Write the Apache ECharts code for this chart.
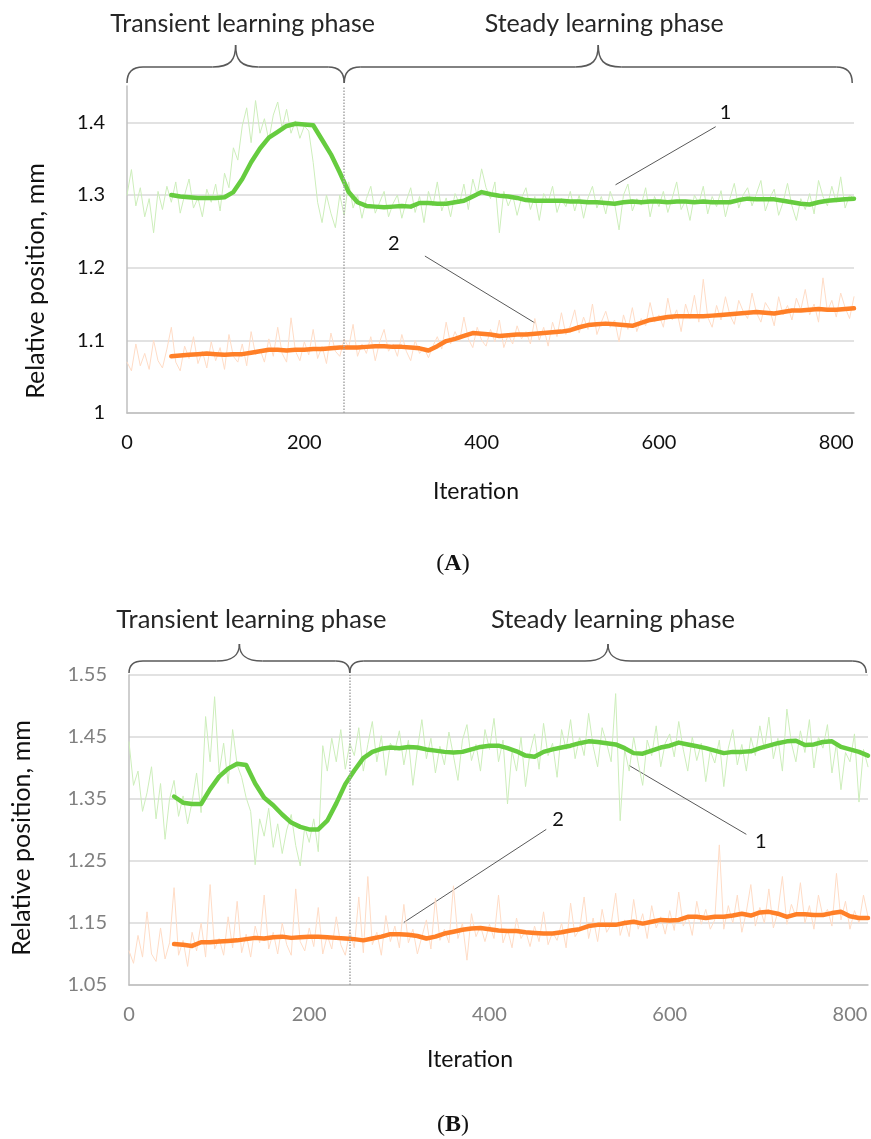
<!DOCTYPE html>
<html>
<head>
<meta charset="utf-8">
<script src="https://cdn.jsdelivr.net/npm/echarts/dist/echarts.min.js"></script>
<style>
  html, body { margin: 0; background: #fff; }
  #chart { width: 871px; height: 1139px; }
</style>
</head>
<body>
<div id="chart"></div>
<script>
// raw samples every 5 iterations (0..820), moving averages every 10 (50..820)
const rawStart = 0, rawStep = 5;
const avgStart = 50, avgStep = 10;
const phaseEnd = 245;
const xTicks = [0, 200, 400, 600, 800];

// ---- panel A ----
const greenRawA = [
  1.300, 1.335, 1.285, 1.310, 1.270, 1.295, 1.248, 1.305, 1.280, 1.312,
  1.290, 1.318, 1.275, 1.300, 1.322, 1.282, 1.296, 1.270, 1.308, 1.290, 1.315, 1.278,
  1.330, 1.310, 1.365, 1.348, 1.395, 1.420, 1.372, 1.430, 1.385, 1.405,
  1.375, 1.410, 1.428, 1.392, 1.418, 1.385, 1.402, 1.378, 1.395, 1.388,
  1.345, 1.290, 1.262, 1.300, 1.275, 1.255, 1.300, 1.272,
  1.318, 1.282, 1.300, 1.268, 1.295, 1.312, 1.275, 1.290, 1.305, 1.270, 1.288,
  1.300, 1.268, 1.292, 1.310, 1.276, 1.298, 1.262, 1.305, 1.285, 1.318,
  1.278, 1.296, 1.270, 1.302, 1.288, 1.315, 1.280, 1.322, 1.300, 1.336,
  1.310, 1.295, 1.318, 1.248, 1.305, 1.285, 1.300, 1.272, 1.296, 1.310,
  1.280, 1.298, 1.265, 1.302, 1.290, 1.312, 1.276, 1.295, 1.284, 1.305,
  1.278, 1.300, 1.268, 1.296, 1.312, 1.282, 1.298, 1.274, 1.305, 1.288,
  1.252, 1.300, 1.315, 1.278, 1.295, 1.286, 1.310, 1.270, 1.298, 1.284,
  1.305, 1.276, 1.296, 1.318, 1.280, 1.292, 1.265, 1.300, 1.288, 1.312,
  1.274, 1.298, 1.284, 1.306, 1.270, 1.295, 1.316, 1.282, 1.300, 1.310,
  1.285, 1.302, 1.320, 1.278, 1.296, 1.308, 1.272, 1.290, 1.316, 1.285, 1.265, 1.295,
  1.280, 1.302, 1.274, 1.320, 1.298, 1.285, 1.312, 1.290, 1.325, 1.282, 1.300, 1.295
];
const orangeRawA = [
  1.070, 1.058, 1.095, 1.065, 1.082, 1.060, 1.100, 1.072, 1.062, 1.088,
  1.118, 1.070, 1.058, 1.092, 1.075, 1.105, 1.068, 1.085, 1.062, 1.098,
  1.072, 1.090, 1.060, 1.108, 1.078, 1.070, 1.095, 1.065, 1.112, 1.080,
  1.088, 1.070, 1.102, 1.078, 1.118, 1.082, 1.070, 1.131, 1.085, 1.072,
  1.098, 1.080, 1.115, 1.075, 1.092, 1.068, 1.110, 1.085, 1.078, 1.102,
  1.090, 1.122, 1.078, 1.095, 1.082, 1.105, 1.072, 1.098, 1.115, 1.085,
  1.095, 1.078, 1.108, 1.085, 1.072, 1.100, 1.082, 1.090, 1.076, 1.092,
  1.105, 1.088, 1.125, 1.095, 1.112, 1.098, 1.132, 1.102, 1.090, 1.118,
  1.100, 1.092, 1.115, 1.098, 1.128, 1.090, 1.108, 1.095, 1.120, 1.102,
  1.112, 1.095, 1.130, 1.100, 1.118, 1.092, 1.125, 1.105, 1.138, 1.108,
  1.120, 1.142, 1.110, 1.132, 1.115, 1.150, 1.108, 1.125, 1.140, 1.118,
  1.128, 1.098, 1.135, 1.115, 1.145, 1.112, 1.130, 1.120, 1.152, 1.125,
  1.135, 1.118, 1.158, 1.128, 1.142, 1.112, 1.150, 1.130, 1.162, 1.125,
  1.184, 1.132, 1.118, 1.148, 1.128, 1.160, 1.135, 1.122, 1.155, 1.140,
  1.130, 1.165, 1.138, 1.125, 1.152, 1.142, 1.120, 1.160, 1.135, 1.148,
  1.128, 1.158, 1.142, 1.170, 1.135, 1.150, 1.125, 1.186, 1.140, 1.155,
  1.132, 1.165, 1.145, 1.130, 1.160
];
const greenAvgA = [
  1.300, 1.298, 1.297, 1.296, 1.296, 1.296, 1.297, 1.304, 1.322, 1.345,
  1.364, 1.379, 1.387, 1.395, 1.398, 1.397, 1.396, 1.376, 1.356, 1.331,
  1.304, 1.290, 1.285, 1.284, 1.283, 1.284, 1.285, 1.284, 1.289, 1.289,
  1.288, 1.288, 1.290, 1.292, 1.298, 1.304, 1.301, 1.299, 1.298, 1.296,
  1.293, 1.292, 1.292, 1.292, 1.292, 1.291, 1.291, 1.290, 1.290, 1.289,
  1.288, 1.290, 1.291, 1.290, 1.291, 1.291, 1.290, 1.291, 1.291, 1.290,
  1.291, 1.290, 1.290, 1.290, 1.293, 1.295, 1.294, 1.294, 1.294, 1.292,
  1.290, 1.288, 1.287, 1.290, 1.292, 1.293, 1.294, 1.295
];
const orangeAvgA = [
  1.078, 1.079, 1.080, 1.081, 1.082, 1.081, 1.080, 1.081, 1.081, 1.083,
  1.085, 1.087, 1.087, 1.086, 1.087, 1.087, 1.088, 1.088, 1.089, 1.090,
  1.090, 1.090, 1.091, 1.092, 1.092, 1.091, 1.091, 1.090, 1.089, 1.086,
  1.092, 1.099, 1.102, 1.106, 1.110, 1.109, 1.108, 1.106, 1.107, 1.108,
  1.108, 1.109, 1.110, 1.111, 1.112, 1.114, 1.118, 1.121, 1.122, 1.123,
  1.122, 1.121, 1.120, 1.124, 1.128, 1.130, 1.132, 1.133, 1.133, 1.133,
  1.133, 1.134, 1.135, 1.136, 1.137, 1.138, 1.139, 1.138, 1.137, 1.139,
  1.141, 1.141, 1.142, 1.143, 1.142, 1.142, 1.143, 1.144
];

// ---- panel B ----
const greenRawB = [
  1.442, 1.372, 1.395, 1.330, 1.360, 1.402, 1.318, 1.375, 1.285, 1.350,
  1.380, 1.322, 1.355, 1.310, 1.345, 1.392, 1.328, 1.483, 1.410, 1.515,
  1.392, 1.440, 1.375, 1.462, 1.405, 1.385, 1.352, 1.330, 1.244, 1.318,
  1.290, 1.335, 1.272, 1.310, 1.262, 1.300, 1.325, 1.275, 1.242, 1.305,
  1.280, 1.318, 1.265, 1.436, 1.395, 1.448, 1.410, 1.462, 1.398, 1.440,
  1.420, 1.465, 1.395, 1.438, 1.475, 1.410, 1.452, 1.388, 1.440, 1.428,
  1.460, 1.405, 1.445, 1.372, 1.430, 1.478, 1.415, 1.448, 1.392, 1.435,
  1.405, 1.458, 1.420, 1.380, 1.445, 1.470, 1.412, 1.438, 1.395, 1.462,
  1.430, 1.480, 1.410, 1.445, 1.342, 1.428, 1.395, 1.450, 1.370, 1.425,
  1.455, 1.398, 1.472, 1.420, 1.440, 1.385, 1.462, 1.430, 1.478, 1.415,
  1.450, 1.420, 1.488, 1.435, 1.402, 1.465, 1.440, 1.410, 1.520, 1.315,
  1.430, 1.395, 1.450, 1.408, 1.372, 1.445, 1.420, 1.468, 1.402, 1.440,
  1.455, 1.418, 1.475, 1.430, 1.395, 1.450, 1.412, 1.440, 1.378, 1.428,
  1.408, 1.445, 1.370, 1.432, 1.462, 1.405, 1.438, 1.395, 1.450, 1.420,
  1.468, 1.430, 1.482, 1.415, 1.448, 1.395, 1.495, 1.440, 1.410, 1.460,
  1.425, 1.478, 1.400, 1.450, 1.432, 1.470, 1.392, 1.440, 1.365, 1.425,
  1.410, 1.455, 1.345, 1.430, 1.402
];
const orangeRawB = [
  1.105, 1.085, 1.130, 1.095, 1.168, 1.100, 1.088, 1.142, 1.092, 1.118,
  1.207, 1.098, 1.122, 1.080, 1.135, 1.105, 1.150, 1.095, 1.212, 1.108,
  1.125, 1.098, 1.160, 1.110, 1.185, 1.102, 1.132, 1.095, 1.145, 1.118,
  1.195, 1.108, 1.135, 1.100, 1.150, 1.115, 1.098, 1.205, 1.120, 1.105,
  1.142, 1.112, 1.175, 1.100, 1.130, 1.108, 1.160, 1.115, 1.098, 1.138,
  1.110, 1.192, 1.102, 1.225, 1.115, 1.135, 1.098, 1.162, 1.120, 1.145,
  1.110, 1.180, 1.118, 1.140, 1.100, 1.128, 1.155, 1.108, 1.190, 1.122,
  1.140, 1.118, 1.210, 1.125, 1.150, 1.090, 1.165, 1.128, 1.145, 1.120,
  1.148, 1.125, 1.195, 1.118, 1.140, 1.110, 1.158, 1.125, 1.138, 1.112,
  1.145, 1.120, 1.168, 1.115, 1.135, 1.122, 1.150, 1.110, 1.182, 1.128,
  1.140, 1.192, 1.125, 1.158, 1.120, 1.172, 1.135, 1.148, 1.198, 1.130,
  1.155, 1.128, 1.188, 1.140, 1.165, 1.125, 1.178, 1.142, 1.160, 1.132,
  1.170, 1.138, 1.200, 1.145, 1.162, 1.130, 1.185, 1.148, 1.172, 1.140,
  1.155, 1.276, 1.140, 1.178, 1.150, 1.195, 1.135, 1.168, 1.212, 1.145,
  1.175, 1.150, 1.205, 1.142, 1.168, 1.225, 1.148, 1.180, 1.160, 1.215,
  1.150, 1.178, 1.140, 1.195, 1.160, 1.172, 1.145, 1.230, 1.155, 1.185,
  1.140, 1.170, 1.150, 1.195, 1.160
];
const greenAvgB = [
  1.354, 1.344, 1.342, 1.342, 1.366, 1.386, 1.399, 1.407, 1.405, 1.375,
  1.352, 1.340, 1.325, 1.312, 1.305, 1.301, 1.301, 1.315, 1.343, 1.374,
  1.396, 1.416, 1.426, 1.431, 1.433, 1.432, 1.434, 1.433, 1.430, 1.428,
  1.426, 1.425, 1.426, 1.430, 1.434, 1.436, 1.436, 1.432, 1.427, 1.420,
  1.418, 1.426, 1.430, 1.433, 1.436, 1.440, 1.443, 1.442, 1.440, 1.438,
  1.432, 1.424, 1.423, 1.428, 1.433, 1.436, 1.441, 1.438, 1.435, 1.432,
  1.428, 1.424, 1.426, 1.426, 1.427, 1.432, 1.436, 1.440, 1.443, 1.444,
  1.437, 1.438, 1.442, 1.443, 1.434, 1.430, 1.426, 1.420
];
const orangeAvgB = [
  1.116, 1.115, 1.113, 1.119, 1.119, 1.120, 1.121, 1.122, 1.124, 1.126,
  1.125, 1.127, 1.128, 1.126, 1.127, 1.128, 1.128, 1.127, 1.126, 1.125,
  1.124, 1.122, 1.125, 1.128, 1.132, 1.132, 1.131, 1.129, 1.125, 1.128,
  1.133, 1.136, 1.139, 1.141, 1.142, 1.140, 1.138, 1.137, 1.137, 1.135,
  1.134, 1.133, 1.133, 1.135, 1.138, 1.140, 1.145, 1.147, 1.147, 1.147,
  1.150, 1.152, 1.149, 1.152, 1.155, 1.154, 1.155, 1.160, 1.160, 1.158,
  1.160, 1.160, 1.162, 1.165, 1.162, 1.167, 1.168, 1.165, 1.160, 1.164,
  1.164, 1.163, 1.163, 1.166, 1.168, 1.161, 1.158, 1.158
];

// curve labels "1"/"2": [grid, text pos, leader start, leader end] in data units
const callouts = [
  [0, '1', [675, 1.413], [664, 1.394], [551, 1.314]],
  [0, '2', [301, 1.233], [336, 1.216], [460, 1.124]],
  [1, '2', [476, 1.317], [463, 1.301], [305, 1.151]],
  [1, '1', [701, 1.282], [685, 1.293], [555, 1.404]]
];

const FONT = 'Lato';
const GREEN = '#66cc3f', GREEN_RAW = '#cdeebb';
const ORANGE = '#ff7f27', ORANGE_RAW = '#ffdcc6';

function pairs(start, step, vals) {
  return vals.map((v, i) => [start + i * step, v]);
}

function xAxisFor(g, labelColor) {
  return {
    gridIndex: g, type: 'value', min: 0, max: 820, interval: 200,
    axisLine: { lineStyle: { color: '#bfbfbf', width: 1.5 } },
    axisTick: { show: false },
    splitLine: { show: false },
    axisLabel: {
      fontFamily: FONT, fontSize: 20, color: labelColor, margin: 20,
      formatter: v => (xTicks.indexOf(v) >= 0 ? String(v) : '')
    }
  };
}

function yAxisFor(g, min, max, labelColor, showTop) {
  return {
    gridIndex: g, type: 'value', min: min, max: max, interval: 0.1,
    axisLine: { show: true, lineStyle: { color: '#bfbfbf', width: 1.5 } },
    axisTick: { show: false },
    splitLine: { show: true, showMaxLine: showTop, lineStyle: { color: '#d9d9d9', width: 1.5 } },
    axisLabel: { fontFamily: FONT, fontSize: 20, color: labelColor, margin: 22, showMaxLabel: showTop }
  };
}

function lineSeries(g, data, color, width, z, divider) {
  const s = {
    type: 'line', xAxisIndex: g, yAxisIndex: g, data: data,
    showSymbol: false, silent: true, z: z,
    lineStyle: { color: color, width: width, cap: 'round', join: 'round' }
  };
  if (divider) {
    s.markLine = {
      symbol: 'none', silent: true, label: { show: false },
      lineStyle: { color: '#a6a6a6', type: 'dotted', width: 1.5 },
      data: [{ xAxis: phaseEnd }]
    };
  }
  return s;
}

const chart = echarts.init(document.getElementById('chart'));
chart.setOption({
  animation: false,
  grid: [
    { left: 127, top: 86, width: 727, height: 327 },
    { left: 129, top: 675, width: 739, height: 310 }
  ],
  xAxis: [xAxisFor(0, '#111'), xAxisFor(1, '#808080')],
  yAxis: [yAxisFor(0, 1, 1.45, '#111', false), yAxisFor(1, 1.05, 1.55, '#808080', true)],
  series: [
    lineSeries(0, pairs(rawStart, rawStep, greenRawA), GREEN_RAW, 1, 1, true),
    lineSeries(0, pairs(rawStart, rawStep, orangeRawA), ORANGE_RAW, 1, 1),
    lineSeries(0, pairs(avgStart, avgStep, greenAvgA), GREEN, 4.5, 3),
    lineSeries(0, pairs(avgStart, avgStep, orangeAvgA), ORANGE, 4.5, 3),
    lineSeries(1, pairs(rawStart, rawStep, greenRawB), GREEN_RAW, 1, 1, true),
    lineSeries(1, pairs(rawStart, rawStep, orangeRawB), ORANGE_RAW, 1, 1),
    lineSeries(1, pairs(avgStart, avgStep, greenAvgB), GREEN, 4.5, 3),
    lineSeries(1, pairs(avgStart, avgStep, orangeAvgB), ORANGE, 4.5, 3)
  ]
});

// braces, phase titles, axis titles, callouts, captions
const px = (g, p) => chart.convertToPixel({ gridIndex: g }, p);
const BRACE = { stroke: '#595959', lineWidth: 1.5, fill: null };
const elements = [];

function curve(x1, y1, x2, y2, c1x, c1y, c2x, c2y) {
  const shape = { x1: x1, y1: y1, x2: x2, y2: y2, cpx1: c1x, cpy1: c1y };
  if (c2x !== undefined) { shape.cpx2 = c2x; shape.cpy2 = c2y; }
  elements.push({ type: 'bezierCurve', silent: true, shape: shape, style: BRACE });
}
function hline(x1, x2, y) {
  elements.push({ type: 'line', silent: true, shape: { x1: x1, y1: y, x2: x2, y2: y }, style: BRACE });
}
function brace(x0, x1, yEnd, yH, yC, r) {
  const xm = (x0 + x1) / 2, c = 23;
  curve(x0, yEnd, x0 + r, yH, x0, yH);
  hline(x0 + r, xm - c, yH);
  curve(xm - c, yH, xm, yC, xm - 5, yH, xm, yH - 7);
  curve(xm, yC, xm + c, yH, xm, yH - 7, xm + 5, yH);
  hline(xm + c, x1 - r, yH);
  curve(x1 - r, yH, x1, yEnd, x1, yH);
}
function label(x, y, text, size, color, rotate) {
  elements.push({
    type: 'text', silent: true, x: x, y: y, rotation: rotate ? Math.PI / 2 : 0,
    style: { text: text, font: size + 'px ' + FONT, fill: color, align: 'center', verticalAlign: 'middle' }
  });
}

const braceRows = [
  { g: 0, yEnd: 83, yH: 67, yC: 45, yText: 24, r: 16, dx: [7, 6], size: 25 },
  { g: 1, yEnd: 673, yH: 661, yC: 644, yText: 620, r: 14, dx: [12, 5], size: 25.5 }
];
braceRows.forEach(b => {
  const x0 = px(b.g, [0, 1.2])[0];
  const xm = px(b.g, [phaseEnd, 1.2])[0];
  const x1 = px(b.g, [818, 1.2])[0];
  [[x0, xm, 'Transient learning phase'], [xm, x1, 'Steady learning phase']].forEach((seg, i) => {
    brace(seg[0], seg[1], b.yEnd, b.yH, b.yC, b.r);
    label((seg[0] + seg[1]) / 2 + b.dx[i], b.yText, seg[2], b.size, '#262626');
  });
});

label(36, 281, 'Relative position, mm', 25, '#111', true);
label(476, 492, 'Iteration', 23, '#111');
label(22, 838, 'Relative position, mm', 25, '#111', true);
label(470, 1060, 'Iteration', 23, '#111');

callouts.forEach(c => {
  const t = px(c[0], c[2]), a = px(c[0], c[3]), b = px(c[0], c[4]);
  elements.push({
    type: 'line', silent: true,
    shape: { x1: a[0], y1: a[1], x2: b[0], y2: b[1] },
    style: { stroke: '#595959', lineWidth: 1 }
  });
  label(t[0], t[1], c[1], 20, '#111');
});

[['A', 564], ['B', 1125]].forEach(cap => {
  elements.push({
    type: 'text', silent: true, x: 453, y: cap[1],
    style: {
      text: '{n|(}{b|' + cap[0] + '}{n|)}', align: 'center', verticalAlign: 'middle',
      rich: {
        n: { fontFamily: 'Liberation Serif', fontSize: 24, fill: '#111' },
        b: { fontFamily: 'Liberation Serif', fontSize: 24, fontWeight: 'bold', fill: '#111' }
      }
    }
  });
});

chart.setOption({ graphic: { elements: elements } });
</script>
</body>
</html>
